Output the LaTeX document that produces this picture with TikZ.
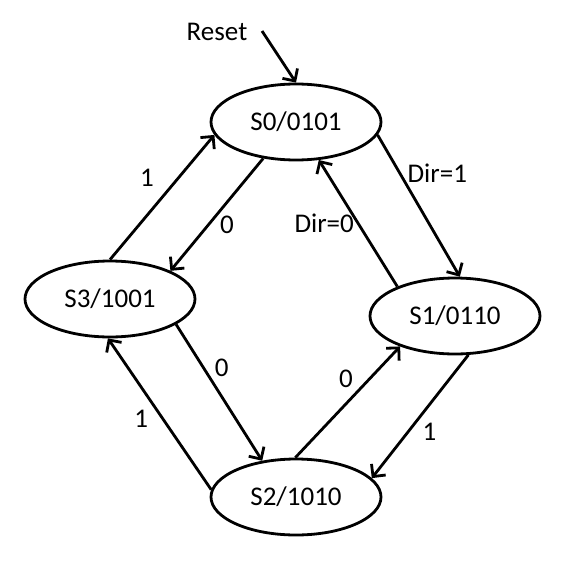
\documentclass[tikz,border=0pt]{standalone}
\usepackage{fontspec}
\setmainfont{Carlito}
\usetikzlibrary{arrows.meta,shapes.geometric}

\begin{document}
\begin{tikzpicture}[x=1pt,y=-1pt,
  state/.style={draw,line width=2.8pt,ellipse,minimum width=170pt,minimum height=76pt,inner sep=0pt},
  trans/.style={line width=2.8pt,-{Straight Barb[length=9pt,width=18pt,line width=2.8pt]}},
  lbl/.style={inner sep=2pt},
  font=\fontsize{27}{31}\selectfont]
\useasboundingbox (0,0) rectangle (576,560);
\node[state] (s0) at (296,122) {S0/0101};
\node[state] (s3) at (110,299) {S3/1001};
\node[state] (s1) at (455,316) {S1/0110};
\node[state] (s2) at (296,497) {S2/1010};
\node (reset) at (217,32) {Reset};
\coordinate (rst) at (262,31);

\draw [trans] (rst) -- (s0.north);
\draw [trans] (s3.north) -- (s0.189) node[lbl,pos=0.51,above left=6pt] {1};
\draw [trans] (s0.228) -- (s3.25) node[lbl,pos=0.49,below right=-1pt] {0};
\draw [trans] (s0.351) -- (s1.83) node[lbl,pos=0.36,above right,xshift=-3pt] {Dir=1};
\draw [trans] (s1.153) -- (s0.301) node[lbl,pos=0.6,below left,xshift=7pt] {Dir=0};
\draw [trans] (s3.339) -- (s2.133) node[lbl,pos=0.41,above right] {0};
\draw [trans] (s2.175) -- (s3.267) node[lbl,pos=0.56,below left=2pt] {1};
\draw [trans] (s2.91) -- (s1.209) node[lbl,pos=0.59,above left=1pt] {0};
\draw [trans] (s1.289) -- (s2.14) node[lbl,pos=0.52,below right=1pt] {1};
\end{tikzpicture}
\end{document}
